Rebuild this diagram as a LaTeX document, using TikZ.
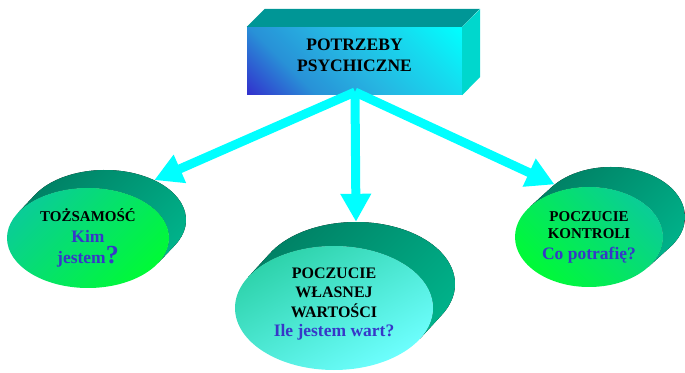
\documentclass[tikz,border=0pt]{standalone}
\usepackage{fontspec}
\setmainfont{Liberation Serif}
\usepackage{xcolor}
\usepackage{tikz}
\usetikzlibrary{arrows.meta, shapes.geometric}
\definecolor{arrowcyan}{RGB}{0,255,255}
\definecolor{boxtop}{RGB}{0,150,150}
\definecolor{boxside}{RGB}{0,215,205}
\definecolor{boxblue}{RGB}{50,50,205}
\definecolor{boxmid}{RGB}{40,145,215}
\definecolor{boxlight}{RGB}{38,182,226}
\definecolor{boxpale}{RGB}{20,222,240}
\definecolor{cyldark}{RGB}{0,128,100}
\definecolor{cyllight}{RGB}{0,178,138}
\definecolor{greenteal}{RGB}{10,205,150}
\definecolor{greenlime}{RGB}{0,250,55}
\definecolor{aquatop}{RGB}{45,210,170}
\definecolor{aquabot}{RGB}{110,255,255}
\definecolor{askblue}{RGB}{55,55,200}
\pgfdeclareverticalshading{boxshade}{100bp}{color(0bp)=(boxblue); color(15bp)=(boxblue); color(32bp)=(boxmid);
    color(50bp)=(boxlight); color(70bp)=(boxpale); color(85bp)=(arrowcyan); color(100bp)=(arrowcyan)}
\tikzstyle{layer}=[top color=cyldark, bottom color=cyllight, shading angle=45]
\tikzstyle{frontcyl}=[ellipse, inner sep=0pt, align=center]
\tikzstyle{arrowline}=[line width=9pt, arrowcyan, -{Triangle[length=28pt,width=29pt]}]
\newcommand{\askline}[1]{{\color{askblue}\fontsize{17.5}{21}\selectfont #1}}

\begin{document}
\begin{tikzpicture}[x=1pt, y=1pt]
    \useasboundingbox (0,0) rectangle (685,372);
    % box
    \node[minimum width=215pt, minimum height=68pt, inner sep=0pt, shading=boxshade, shading angle=-45,
          align=center, text depth=12pt, font=\bfseries\fontsize{17.5}{21}\selectfont] (need) at (354.5,311) {POTRZEBY\\PSYCHICZNE};
    \fill[boxtop] (need.north west) -- ++(18,18) -- ++(215,0) -- (need.north east) -- cycle;
    \fill[boxside] (need.north east) -- ++(18,18) -- ++(0,-68) -- (need.south east) -- cycle;
    % left cylinder
    \node[ellipse, minimum width=162pt, minimum height=100pt] (tozback) at (105,152) {};
    \fill[layer] ({88+81*cos(149.75)}, {134+50*sin(149.75)}) -- ++(17,18)
        arc[start angle=149.75, end angle=-30.25, x radius=81, y radius=50] -- ++(-17,-18)
        arc[start angle=-30.25, end angle=149.75, x radius=81, y radius=50] -- cycle;
    \node[frontcyl, top color=greenteal, bottom color=greenlime, shading angle=45, minimum width=162pt, minimum height=100pt,
          font=\bfseries\fontsize{15}{21}\selectfont] (toz) at (88,134)
          {TOŻSAMOŚĆ\\ \askline{Kim}\\ \askline{jestem}{\color{askblue}\fontsize{26}{26}\selectfont ?}};
    % middle cylinder
    \node[ellipse, minimum width=198pt, minimum height=124pt] (wertback) at (356,88) {};
    \fill[layer] ({334+99*cos(150.14)}, {64+62*sin(150.14)}) -- ++(22,24)
        arc[start angle=150.14, end angle=-29.86, x radius=99, y radius=62] -- ++(-22,-24)
        arc[start angle=-29.86, end angle=150.14, x radius=99, y radius=62] -- cycle;
    \node[frontcyl, top color=aquatop, bottom color=aquabot, shading angle=30, minimum width=198pt, minimum height=124pt,
          text depth=12pt, font=\bfseries\fontsize{16}{19.5}\selectfont] (wert) at (334,64)
          {POCZUCIE\\ WŁASNEJ\\ WARTOŚCI\\ \askline{Ile jestem wart?}};
    % right cylinder
    \node[ellipse, minimum width=148pt, minimum height=100pt] (kontback) at (611,155) {};
    \fill[layer] ({589+74*cos(143.4)}, {135+50*sin(143.4)}) -- ++(22,20)
        arc[start angle=143.4, end angle=-36.6, x radius=74, y radius=50] -- ++(-22,-20)
        arc[start angle=-36.6, end angle=143.4, x radius=74, y radius=50] -- cycle;
    \node[frontcyl, top color=greenteal, bottom color=greenlime, shading angle=-45, minimum width=148pt, minimum height=100pt,
          font=\bfseries\fontsize{15}{17}\selectfont] (kont) at (589,135)
          {POCZUCIE\\ KONTROLI\\[4pt] \askline{Co potrafię?}};
    % arrows
    \coordinate (apex) at (355,280);
    \draw[arrowline] (apex) -- (tozback.39);
    \draw[arrowline] (apex) -- (wertback.north);
    \draw[arrowline] (apex) -- (kontback.150);
\end{tikzpicture}
\end{document}
